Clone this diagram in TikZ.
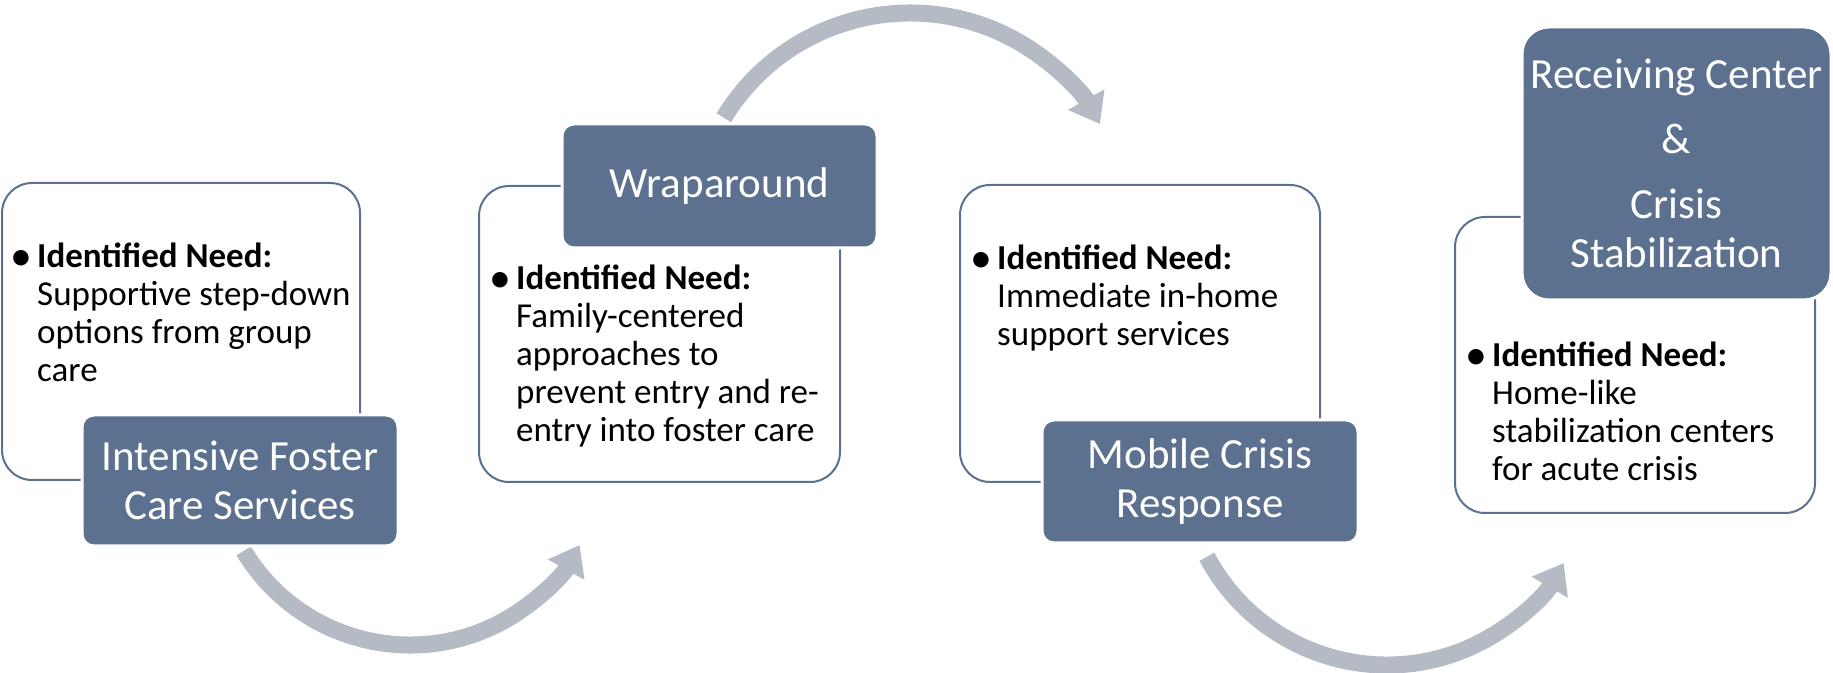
\documentclass[tikz,border=0pt]{standalone}
\usepackage{fontspec}
\setmainfont{Carlito}
\usepackage{tikz}
\usetikzlibrary{arrows.meta}

\definecolor{slate}{RGB}{92,113,143}
\definecolor{arrowgray}{RGB}{181,187,197}

\tikzset{
  needbox/.style={draw=slate, line width=2pt, fill=white, rounded corners=30pt,
    minimum width=360pt, minimum height=297pt, inner sep=0pt},
  svcbox/.style={draw=white, line width=3pt, fill=slate, rounded corners=12pt,
    text=white, align=center, inner sep=0pt, font=\fontsize{43}{49}\selectfont},
  needtext/.style={anchor=base west, inner sep=0pt, font=\fontsize{35}{38}\selectfont},
  flow/.style={draw=arrowgray, line width=17pt, -{Triangle[length=28pt,width=40pt]}}
}

% bullet with bold heading, then the lines below it
\newcommand{\needlist}[1]{\makebox[8pt][c]{\raisebox{-3pt}{\scalebox{1.25}{\textbullet}}}\hspace{12pt}\parbox[t]{330pt}{\raggedright\textbf{Identified Need:}\\#1}}

\begin{document}
\begin{tikzpicture}[x=1pt, y=1pt]
      \useasboundingbox (0,0) rectangle (1833,672);

      % centres of the curved arrows
      \coordinate (c1) at (410,221);
      \coordinate (c2) at (910,441);
      \coordinate (c3) at (1387,211);

      % curved arrows between the steps
      \draw[flow] ([shift={(211:194)}]c1) arc[start angle=211, end angle=331, radius=194]; % step 1 to 2
      \draw[flow] ([shift={(148.7:218)}]c2) arc[start angle=148.7, end angle=29.4, radius=218]; % step 2 to 3
      \draw[flow] ([shift={(208:204)}]c3) arc[start angle=208, end angle=330, radius=204]; % step 3 to 4

      % white boxes with the needs
      \node[needbox] (need1) at (181,340.5) [minimum width=358pt] {};
      \node[needbox] (need2) at (659.5,338) [minimum width=361pt, minimum height=296pt] {};
      \node[needbox] (need3) at (1140,338.5) {};
      \node[needbox] (need4) at (1635,307) [minimum height=296pt] {};

      % text of the needs
      \node[needtext] (txt1) at (17,404) {\needlist{Supportive step-down\\options from group\\care}};
      \node[needtext] (txt2) at (496,382) {\needlist{Family-centered\\approaches to\\prevent entry and re-\\entry into foster care}};
      \node[needtext] (txt3) at (977,402) {\needlist{Immediate in-home\\support services}};
      \node[needtext] (txt4) at (1472,305) {\needlist{Home-like\\stabilization centers\\for acute crisis}};

      % dark boxes with the services
      \node[svcbox, minimum width=316pt, minimum height=131pt] (svc1) at (240,191.5) {Intensive Foster\\Care Services};
      \node[svcbox, minimum width=315pt, minimum height=124pt] (svc2) at (719.5,486) {Wraparound};
      \node[svcbox, minimum width=316pt, minimum height=123pt] (svc3) at (1200,190.5) {Mobile Crisis\\Response};
      \node[svcbox, minimum width=309pt, minimum height=273pt, rounded corners=27pt] (svc4) at (1676.5,508.5)
        {Receiving Center\\[16pt]\&\\[16pt]Crisis\\Stabilization};
\end{tikzpicture}
\end{document}
